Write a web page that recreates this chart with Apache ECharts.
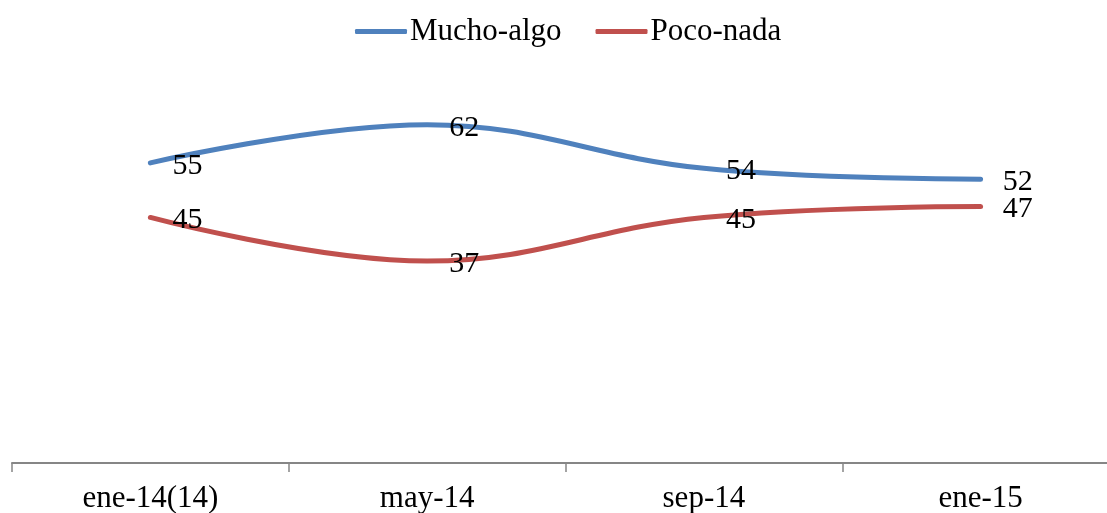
<!DOCTYPE html>
<html>
<head>
<meta charset="utf-8">
<script src="https://cdn.jsdelivr.net/npm/echarts@6/dist/echarts.min.js"></script>
<style>html,body{margin:0;padding:0;background:#fff;}#c{width:1107px;height:513px;}</style>
</head>
<body>
<div id="c"></div>
<script>
const categories = ['ene-14(14)', 'may-14', 'sep-14', 'ene-15'];
const muchoAlgo = [55, 62, 54, 52];
const pocoNada = [45, 37, 45, 47];
const seriesNames = ['Mucho-algo', 'Poco-nada'];

const font = '"Liberation Serif", "Times New Roman", serif';
const chart = echarts.init(document.getElementById('c'));
const labelCfg = {
  show: true, position: 'inside', offset: [37, 3],
  fontFamily: font, fontSize: 30, color: '#000'
};
chart.setOption({
  animation: false,
  legend: {
    top: 11, left: 350,
    itemWidth: 52, itemHeight: 5, itemGap: 34,
    icon: 'roundRect',
    textStyle: { fontFamily: font, fontSize: 31, color: '#000', padding: [0, 0, 0, -2] },
    data: seriesNames
  },
  grid: { left: 12, width: 1107, top: 81, bottom: 50, containLabel: false, outerBoundsMode: 'none' },
  xAxis: {
    type: 'category', data: categories, boundaryGap: true,
    axisLine: { lineStyle: { color: '#868686', width: 2 } },
    axisTick: { show: true, length: 9, lineStyle: { color: '#868686', width: 1.5 } },
    axisLabel: { fontFamily: font, fontSize: 31, color: '#000', margin: 20 }
  },
  yAxis: {
    type: 'value', min: 0, max: 70, show: false,
    splitLine: { show: false }
  },
  series: [
    {
      name: seriesNames[0], type: 'line', data: muchoAlgo, smooth: 0.4,
      symbol: 'circle', symbolSize: 0, showSymbol: true,
      itemStyle: { color: '#4F81BD' },
      lineStyle: { color: '#4F81BD', width: 5, cap: 'round' },
      label: labelCfg
    },
    {
      name: seriesNames[1], type: 'line', data: pocoNada, smooth: 0.4,
      symbol: 'circle', symbolSize: 0, showSymbol: true,
      itemStyle: { color: '#C0504D' },
      lineStyle: { color: '#C0504D', width: 5, cap: 'round' },
      label: labelCfg
    }
  ]
});
</script>
</body>
</html>
